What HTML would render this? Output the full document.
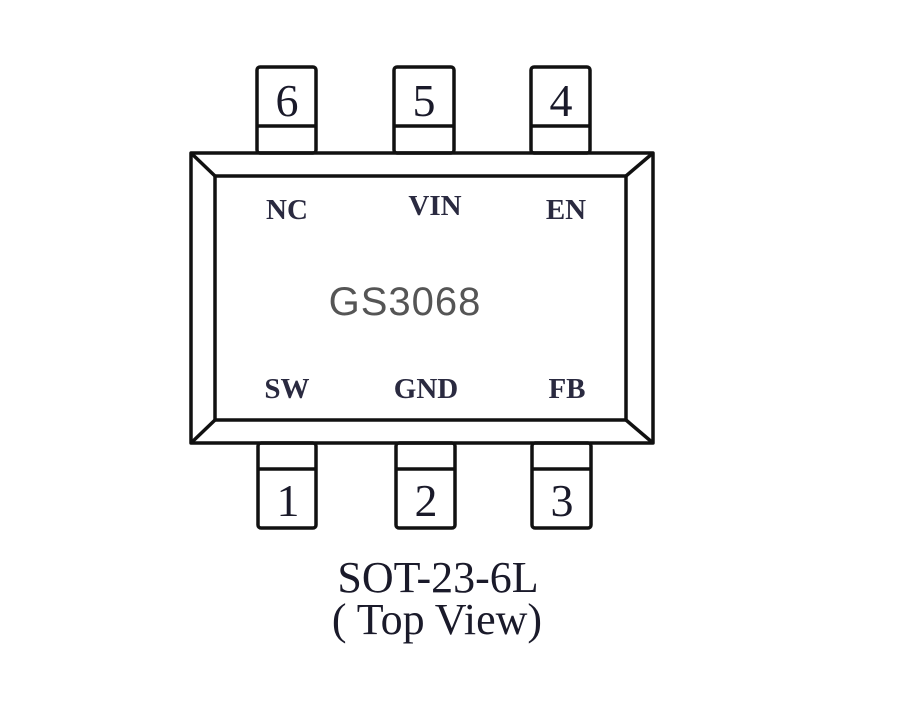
<!DOCTYPE html>
<html><head><style>body{margin:0;background:#fff}</style></head><body>
<svg width="900" height="696" xmlns="http://www.w3.org/2000/svg">
<g fill="none" stroke="#111" stroke-width="3.5" stroke-linejoin="round">
<rect x="191" y="153" width="462" height="290"/>
<rect x="215" y="176" width="411" height="244"/>
<line x1="191" y1="153" x2="215" y2="176"/>
<line x1="653" y1="153" x2="626" y2="176"/>
<line x1="191" y1="443" x2="215" y2="420"/>
<line x1="653" y1="443" x2="626" y2="420"/>
<rect x="257" y="67" width="59" height="86" rx="3"/><line x1="257" y1="126" x2="316" y2="126"/>
<rect x="394" y="67" width="60" height="86" rx="3"/><line x1="394" y1="126" x2="454" y2="126"/>
<rect x="531" y="67" width="59" height="86" rx="3"/><line x1="531" y1="126" x2="590" y2="126"/>
<rect x="258" y="443" width="58" height="85" rx="3"/><line x1="258" y1="469" x2="316" y2="469"/>
<rect x="396" y="443" width="59" height="85" rx="3"/><line x1="396" y1="469" x2="455" y2="469"/>
<rect x="532" y="443" width="59" height="85" rx="3"/><line x1="532" y1="469" x2="591" y2="469"/>
</g>
<g font-family="Liberation Serif, serif" fill="#1a1a2a" text-anchor="middle">
<text x="287" y="116" font-size="46">6</text>
<text x="424" y="116" font-size="46">5</text>
<text x="561" y="116" font-size="46">4</text>
<text x="288" y="516" font-size="46">1</text>
<text x="426" y="516" font-size="46">2</text>
<text x="562" y="516" font-size="46">3</text>
<g font-size="29" font-weight="bold" fill="#2a2a40">
<text x="287" y="219">NC</text>
<text x="435" y="215">VIN</text>
<text x="566" y="219">EN</text>
<text x="287" y="398">SW</text>
<text x="426" y="398">GND</text>
<text x="567" y="398">FB</text>
</g>
<text x="438" y="592" font-size="44">SOT-23-6L</text>
<text x="437" y="634" font-size="44">( Top View)</text>
</g>
<text x="405" y="315" font-family="Liberation Sans, sans-serif" font-size="40" letter-spacing="1" fill="#555" text-anchor="middle">GS3068</text>
</svg>
</body></html>
